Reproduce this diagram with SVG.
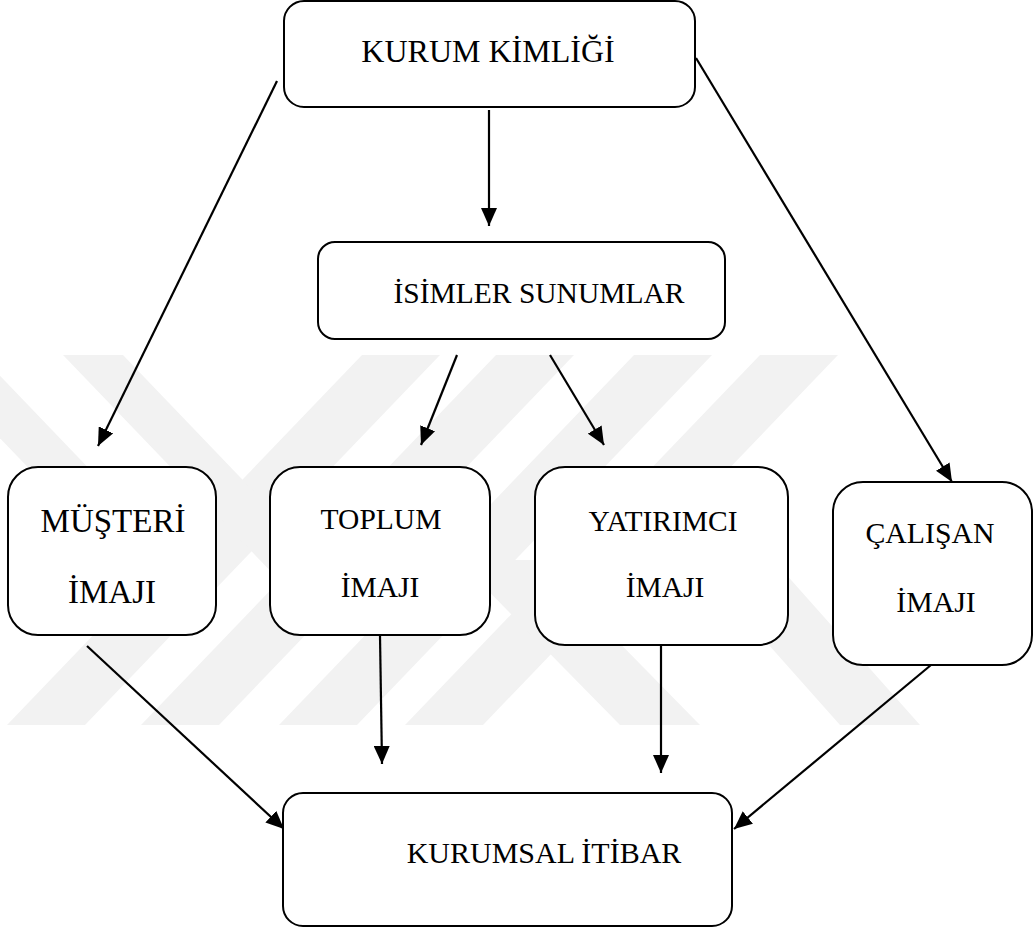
<svg xmlns="http://www.w3.org/2000/svg" width="1036" height="928" viewBox="0 0 1036 928">
  <style>
    .box { fill: #ffffff; stroke: #000000; stroke-width: 2; }
    .lbl { font-family: 'Liberation Serif', 'Times New Roman', serif; fill: #000000; }
    .wm { fill: #f2f2f2; stroke: none; }
    .conn line { stroke: #000000; stroke-width: 2.2; marker-end: url(#arr); }
  </style>
  <defs>
    <marker id="arr" markerUnits="userSpaceOnUse" markerWidth="19" markerHeight="16" refX="18" refY="8" orient="auto">
      <path d="M0,0 L18,8 L0,16 z" fill="#000000"/>
    </marker>
  </defs>
  <rect x="0" y="0" width="1036" height="928" fill="#ffffff"/>
  <g id="watermark">
    <polygon class="wm" points="7,725 85,725 440,355 362,355"/>
    <polygon class="wm" points="141,725 219,725 574,355 496,355"/>
    <polygon class="wm" points="279,725 357,725 712,355 634,355"/>
    <polygon class="wm" points="405,725 483,725 838,355 760,355"/>
    <polygon class="wm" points="63,355 123,355 309,549 280,581"/>
    <polygon class="wm" points="-80,355 -20,355 171,554 141,585"/>
    <polygon class="wm" points="458,560 538,560 700,725 620,725"/>
    <polygon class="wm" points="640,500 720,500 920,725 840,725"/>
  </g>
  <g class="conn" id="connectors">
    <line x1="489" y1="110" x2="489" y2="226"/>
    <line x1="277" y1="81" x2="98" y2="446"/>
    <line x1="696" y1="58" x2="952" y2="482"/>
    <line x1="457" y1="355" x2="421" y2="445"/>
    <line x1="550" y1="355" x2="604" y2="445"/>
    <line x1="87" y1="646" x2="284" y2="829"/>
    <line x1="380" y1="636" x2="382" y2="764"/>
    <line x1="661" y1="645" x2="661" y2="773"/>
    <line x1="931" y1="665" x2="734" y2="829"/>
  </g>
  <g id="kurum-kimligi">
    <rect class="box" x="284" y="1" width="411" height="106" rx="20" ry="20"/>
    <text class="lbl" x="488" y="62" font-size="32" text-anchor="middle">KURUM KİMLİĞİ</text>
  </g>
  <g id="isimler-sunumlar">
    <rect class="box" x="318" y="242" width="407" height="97" rx="17" ry="17"/>
    <text class="lbl" x="539" y="303" font-size="29.5" text-anchor="middle">İSİMLER SUNUMLAR</text>
  </g>
  <g id="musteri-imaji">
    <rect class="box" x="8" y="467" width="208" height="168" rx="30" ry="30"/>
    <text class="lbl" x="113" y="532" font-size="33" text-anchor="middle">MÜŞTERİ</text>
    <text class="lbl" x="112" y="603" font-size="33" text-anchor="middle">İMAJI</text>
  </g>
  <g id="toplum-imaji">
    <rect class="box" x="270" y="467" width="220" height="168" rx="30" ry="30"/>
    <text class="lbl" x="381" y="529" font-size="29.5" text-anchor="middle">TOPLUM</text>
    <text class="lbl" x="380" y="597" font-size="29.5" text-anchor="middle">İMAJI</text>
  </g>
  <g id="yatirimci-imaji">
    <rect class="box" x="535" y="467" width="253" height="178" rx="30" ry="30"/>
    <text class="lbl" x="663" y="531" font-size="29.5" text-anchor="middle">YATIRIMCI</text>
    <text class="lbl" x="665" y="597" font-size="29.5" text-anchor="middle">İMAJI</text>
  </g>
  <g id="calisan-imaji">
    <rect class="box" x="833" y="482" width="199" height="183" rx="30" ry="30"/>
    <text class="lbl" x="930" y="543" font-size="29.8" text-anchor="middle">ÇALIŞAN</text>
    <text class="lbl" x="936" y="612" font-size="29.8" text-anchor="middle">İMAJI</text>
  </g>
  <g id="kurumsal-itibar">
    <rect class="box" x="283" y="793" width="449" height="133" rx="20" ry="20"/>
    <text class="lbl" x="544" y="863" font-size="30" text-anchor="middle">KURUMSAL İTİBAR</text>
  </g>
</svg>
